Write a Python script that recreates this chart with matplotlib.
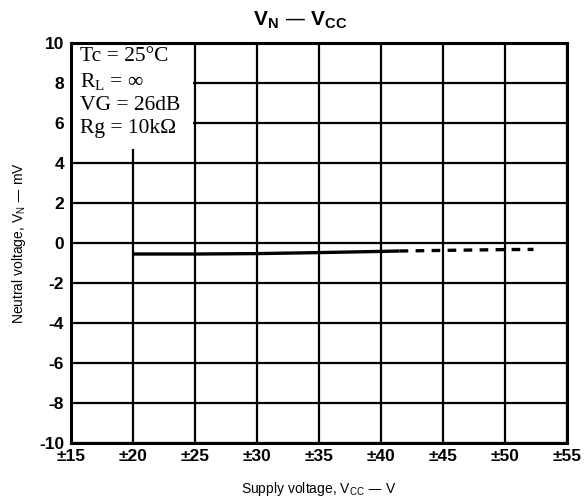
import matplotlib.pyplot as plt
from matplotlib.patches import Rectangle

plt.rcParams['font.family'] = ['Liberation Sans', 'DejaVu Sans']

# supply voltage vs neutral voltage
vcc_solid = [20, 25, 30, 35, 40, 41.5]
vn_solid = [-0.55, -0.55, -0.53, -0.48, -0.42, -0.40]
vcc_dash = [41.5, 45, 50, 52.3]
vn_dash = [-0.40, -0.37, -0.33, -0.32]

x_ticks = [15, 20, 25, 30, 35, 40, 45, 50, 55]
y_ticks = [-10, -8, -6, -4, -2, 0, 2, 4, 6, 8, 10]
x_labels = ['±15', '±20', '±25', '±30', '±35', '±40', '±45', '±50', '±55']

fig = plt.figure(figsize=(5.88, 4.99), dpi=100)
ax = fig.add_axes([71 / 588, 56 / 499, 496 / 588, 400 / 499])

ax.set_xlim(15, 55)
ax.set_ylim(-10, 10)
ax.set_xticks(x_ticks)
ax.set_xticklabels(x_labels, fontsize=12.5, fontweight='bold')
ax.set_yticks(y_ticks)
ax.set_yticklabels([str(v) for v in y_ticks], fontsize=12.5, fontweight='bold')
ax.tick_params(axis='x', length=0, pad=4)
ax.tick_params(axis='y', length=0, pad=5)
ax.grid(True, color='black', linewidth=1.6)
for s in ax.spines.values():
    s.set_linewidth(2.2)

# white panel for the conditions text (hides grid in upper-left)
ax.add_patch(Rectangle((15, 4.7), 9.85, 5.3, facecolor='white',
                       edgecolor='none', zorder=2))

ax.plot(vcc_solid, vn_solid, color='black', linewidth=2.4,
        solid_capstyle='butt', zorder=3)
ax.plot(vcc_dash, vn_dash, color='black', linewidth=2.4,
        linestyle=(0, (2.6, 2.2)), zorder=3)

ax.text(0.018, 0.99,
        'Tc = 25°C\n$\\mathregular{R_L}$ = ∞\nVG = 26dB\nRg = 10kΩ',
        transform=ax.transAxes, va='top', ha='left', fontsize=15.5,
        family=['Liberation Serif', 'DejaVu Serif'], linespacing=1.3,
        zorder=4)

fig.text(300 / 588, 1 - 20 / 499,
         '$\\mathregular{V_N}$ — $\\mathregular{V_{CC}}$',
         fontsize=15, fontweight='bold', ha='center', va='center')
ax.set_xlabel('Supply voltage, $\\mathregular{V_{CC}}$ — V', fontsize=10,
              labelpad=12)
ax.set_ylabel('Neutral voltage, $\\mathregular{V_N}$ — mV', fontsize=10,
              labelpad=8)

fig.savefig('out.png', dpi=100)
